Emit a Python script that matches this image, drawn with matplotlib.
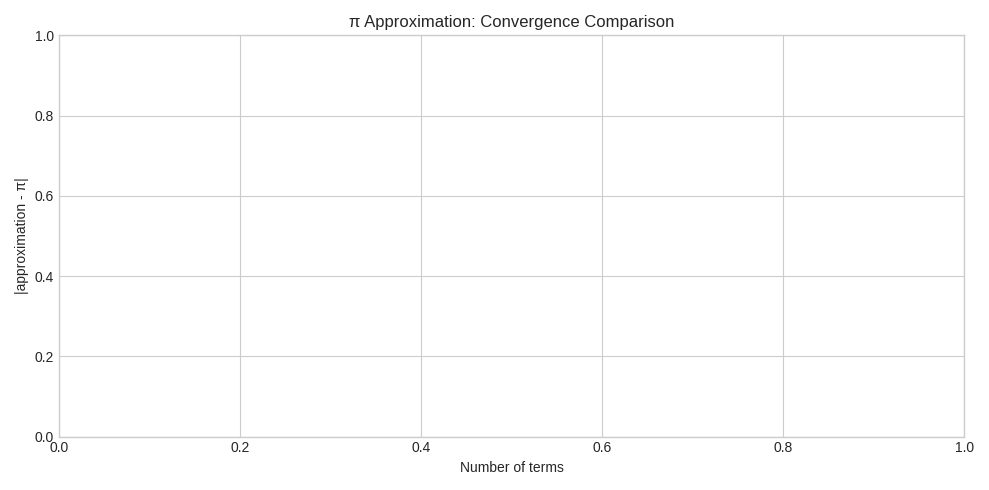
import matplotlib
matplotlib.use("Agg")
import matplotlib.pyplot as plt

plt.style.use('seaborn-v0_8-whitegrid')
plt.rcParams['font.family'] = ['Liberation Sans', 'DejaVu Sans']

# The reference chart contains no plotted series
terms = []
errors = []

fig, ax = plt.subplots(figsize=(9.89, 4.9), dpi=100)
ax.set_title('π Approximation: Convergence Comparison')
ax.set_xlabel('Number of terms')
ax.set_ylabel('|approximation - π|')
ax.set_xlim(0, 1)
ax.set_ylim(0, 1)
for s in ax.spines.values():
    s.set_visible(True)
    s.set_color('#cccccc')
fig.tight_layout()
fig.savefig('out.png', dpi=100)
